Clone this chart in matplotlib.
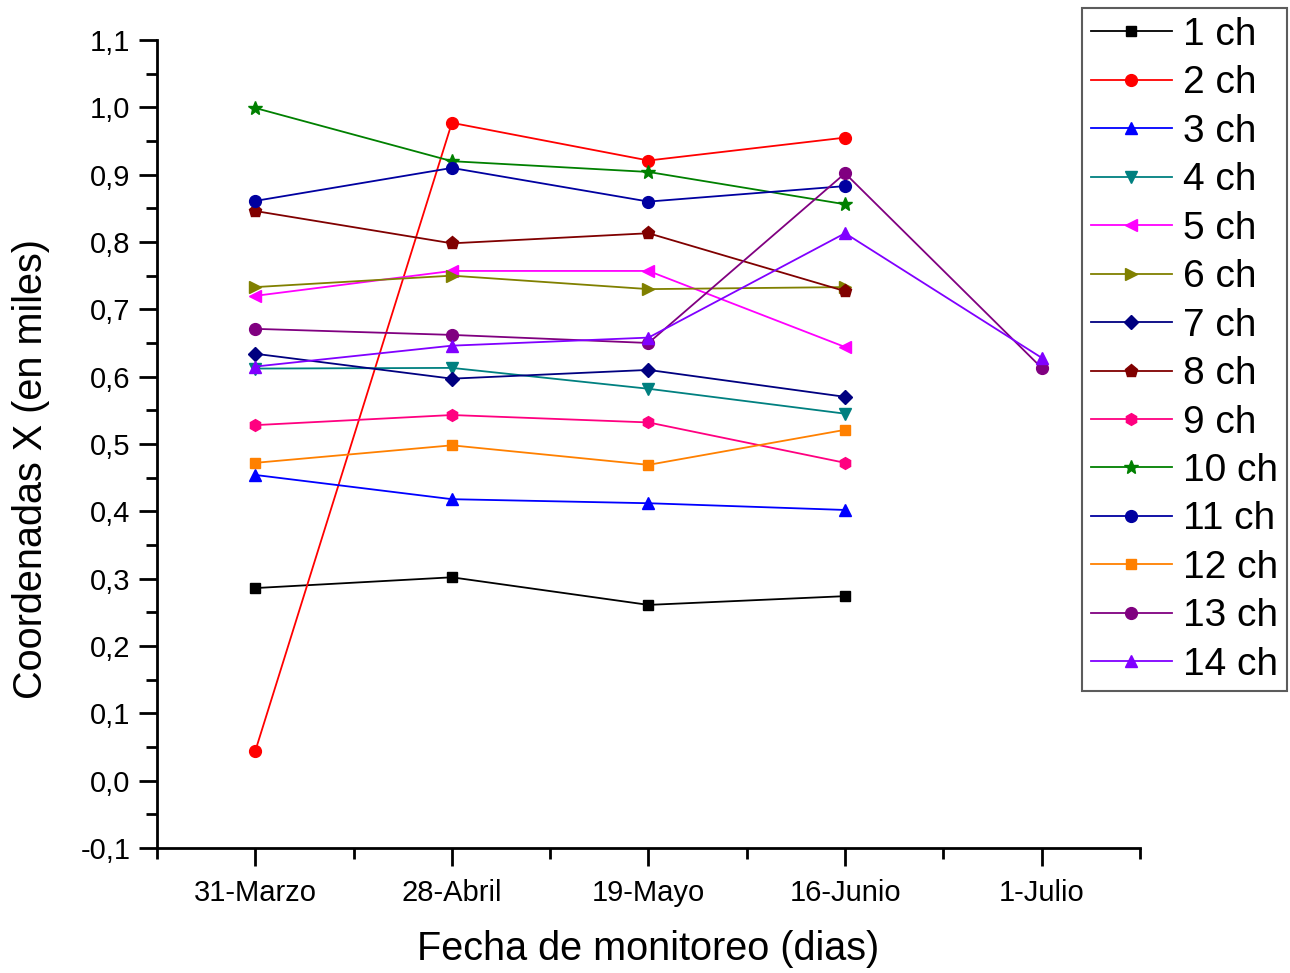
import numpy as np
import matplotlib
matplotlib.use("Agg")
import matplotlib.pyplot as plt
from matplotlib.ticker import MultipleLocator, FixedLocator, FuncFormatter

fechas = ["31-Marzo", "28-Abril", "19-Mayo", "16-Junio", "1-Julio"]
nombres = ["1 ch", "2 ch", "3 ch", "4 ch", "5 ch", "6 ch", "7 ch",
           "8 ch", "9 ch", "10 ch", "11 ch", "12 ch", "13 ch", "14 ch"]

ch1 = [0.286, 0.302, 0.261, 0.274]
ch2 = [0.044, 0.977, 0.921, 0.955]
ch3 = [0.454, 0.418, 0.412, 0.402]
ch4 = [0.612, 0.613, 0.582, 0.545]
ch5 = [0.720, 0.757, 0.757, 0.644]
ch6 = [0.733, 0.750, 0.730, 0.733]
ch7 = [0.634, 0.597, 0.610, 0.570]
ch8 = [0.846, 0.798, 0.813, 0.727]
ch9 = [0.528, 0.543, 0.532, 0.472]
ch10 = [0.999, 0.920, 0.904, 0.856]
ch11 = [0.861, 0.910, 0.860, 0.883]
ch12 = [0.472, 0.498, 0.469, 0.521]
ch13 = [0.671, 0.662, 0.650, 0.902, 0.613]
ch14 = [0.615, 0.646, 0.658, 0.813, 0.628]

series = [ch1, ch2, ch3, ch4, ch5, ch6, ch7, ch8, ch9, ch10, ch11, ch12, ch13, ch14]
colores = ["#000000", "#FF0000", "#0000FF", "#008080", "#FF00FF", "#808000", "#000080",
           "#800000", "#FF0080", "#008000", "#0000A0", "#FF8000", "#800080", "#8000FF"]
marcas = ["s", "o", "^", "v", "<", ">", "D", "p", "h", "*", "o", "s", "o", "^"]
tam = [7.5, 8.5, 8.5, 8.5, 8.5, 8.5, 7.5, 9.5, 8.5, 10.5, 8.5, 7.5, 8.5, 8.5]

plt.rcParams["font.family"] = ["Liberation Sans", "DejaVu Sans"]

fig = plt.figure(figsize=(12.9, 9.73), dpi=100)
ax = fig.add_axes([0.1217, 0.1285, 0.762, 0.8304])

for i, vals in enumerate(series):
    x = np.arange(1, len(vals) + 1)
    ax.plot(x, vals, color=colores[i], marker=marcas[i], markersize=tam[i],
            linewidth=1.3, label=nombres[i])

ax.set_xlim(0.5, 5.5)
ax.set_ylim(-0.1, 1.1)
ax.xaxis.set_major_locator(FixedLocator([1, 2, 3, 4, 5]))
ax.xaxis.set_minor_locator(FixedLocator([0.5, 1.5, 2.5, 3.5, 4.5, 5.5]))
ax.set_xticklabels(fechas)
ax.yaxis.set_major_locator(MultipleLocator(0.1))
ax.yaxis.set_minor_locator(MultipleLocator(0.05))
ax.yaxis.set_major_formatter(FuncFormatter(lambda v, p: f"{v:.1f}".replace(".", ",").replace("-0,0", "0,0")))

ax.spines["top"].set_visible(False)
ax.spines["right"].set_visible(False)
ax.spines["left"].set_linewidth(2)
ax.spines["bottom"].set_linewidth(2)
ax.tick_params(which="major", direction="out", length=13, width=2, pad=6)
ax.tick_params(which="minor", direction="out", length=8, width=2)
ax.tick_params(axis="y", labelsize=21)
ax.tick_params(axis="x", labelsize=21, pad=9)

ax.set_xlabel("Fecha de monitoreo (dias)", fontsize=28.5)
ax.set_ylabel("Coordenadas X (en miles)", fontsize=28.5)
ax.xaxis.set_label_coords(0.5, -0.101)
ax.yaxis.set_label_coords(-0.109, 0.469)

leg = ax.legend(loc="upper left", bbox_to_anchor=(0.941, 1.039), frameon=True, fancybox=False,
                edgecolor="#333333", handlelength=2.1, handletextpad=0.28,
                labelspacing=0.32, borderpad=0.22, borderaxespad=0.0,
                prop={"size": 28})
leg.get_frame().set_linewidth(1.5)

fig.savefig("out.png", dpi=100)
